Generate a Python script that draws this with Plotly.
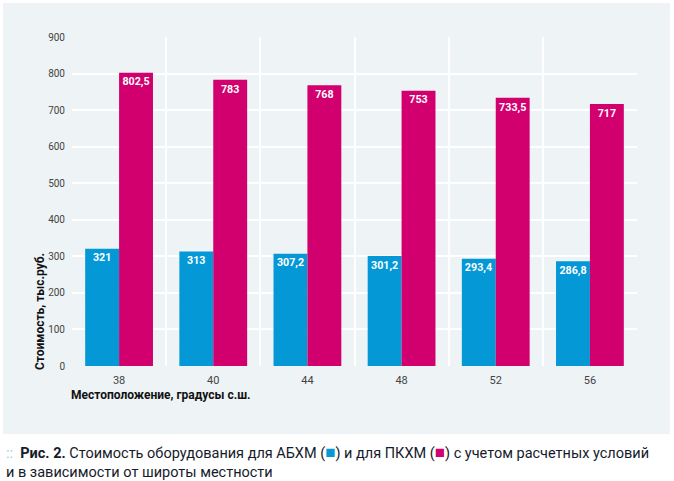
import plotly.graph_objects as go

categories = ["38", "40", "44", "48", "52", "56"]
abhm = [321, 313, 307.2, 301.2, 293.4, 286.8]
pkhm = [802.5, 783, 768, 753, 733.5, 717]
y_ticks = [0, 100, 200, 300, 400, 500, 600, 700, 800, 900]

BLUE = "#0498d6"
PINK = "#d2006e"
FONT = "Roboto, Liberation Sans, sans-serif"

def fmt(v):
    s = ("%g" % v)
    return s.replace(".", ",")

fig = go.Figure()
fig.add_bar(x=categories, y=abhm, marker_color=BLUE, marker_line_width=0,
            text=[fmt(v) for v in abhm], textposition="inside", insidetextanchor="end",
            textfont=dict(color="white", size=11, family=FONT), texttemplate="<b>%{text}</b>",
            textangle=0, name="АБХМ")
fig.add_bar(x=categories, y=pkhm, marker_color=PINK, marker_line_width=0,
            text=[fmt(v) for v in pkhm], textposition="inside", insidetextanchor="end",
            textfont=dict(color="white", size=11, family=FONT), texttemplate="<b>%{text}</b>",
            textangle=0, name="ПКХМ")

L, R, T, B = 72, 37, 37, 115
W, H = 674, 481
pw = W - L - R
ph = H - T - B

def px(x):
    return (x - L) / pw

def py(y):
    return (H - B - y) / ph

fig.update_layout(
    width=W, height=H,
    margin=dict(l=L, r=R, t=T, b=B, pad=0),
    barmode="group", bargap=0.28, bargroupgap=0,
    showlegend=False,
    paper_bgcolor="white",
    plot_bgcolor="#c9d4db",
    font=dict(family=FONT, color="#333333", size=11),
    uniformtext=dict(minsize=8, mode="show"),
    xaxis=dict(type="category", tickson="boundaries", showgrid=True, gridcolor="white",
               gridwidth=1.5, ticks="", showline=False, zeroline=False,
               tickfont=dict(size=11, color="#444444"), ticklabelstandoff=6),
    yaxis=dict(range=[0, 900], tickvals=y_ticks, showgrid=True, gridcolor="white",
               gridwidth=1.5, zeroline=False, ticks="", showline=False,
               tickfont=dict(size=10, color="#444444"), ticklabelstandoff=6,
               minor=dict(dtick=50, showgrid=True, gridcolor="#edf2f5", gridwidth=1)),
)

# background panel
fig.add_shape(type="rect", xref="paper", yref="paper", layer="below",
              x0=px(3), x1=px(670), y0=py(434), y1=py(3),
              fillcolor="#eef3f6", line_width=0)

fig.add_annotation(xref="paper", yref="paper", x=px(40), y=py(312),
                   text="<b>Стоимость, тыс.руб.</b>", textangle=-90, showarrow=False,
                   font=dict(size=12, color="#111111", family=FONT),
                   xanchor="center", yanchor="middle")
fig.add_annotation(xref="paper", yref="paper", x=px(69), y=py(395),
                   text="<b>Местоположение, градусы с.ш.</b>", showarrow=False,
                   font=dict(size=12, color="#111111", family=FONT),
                   xanchor="left", yanchor="middle")
SQ = "<span style='color:%s;font-size:17px'>■</span>"
fig.add_annotation(xref="paper", yref="paper", x=px(4), y=py(440),
                   text=("<span style='color:#8fcbe6'>::</span>  <b>Рис. 2.</b> Стоимость оборудования для АБХМ ("
                         + SQ % BLUE + ") и для ПКХМ (" + SQ % PINK + ") "
                         "с учетом расчетных условий<br>и в зависимости от широты местности"),
                   showarrow=False, align="left", xanchor="left", yanchor="top",
                   font=dict(size=14.5, color="#151b2b", family=FONT))

fig.write_html("out.html", config={"displayModeBar": False},
               post_script="document.body.style.margin='0';document.body.style.padding='0';")
